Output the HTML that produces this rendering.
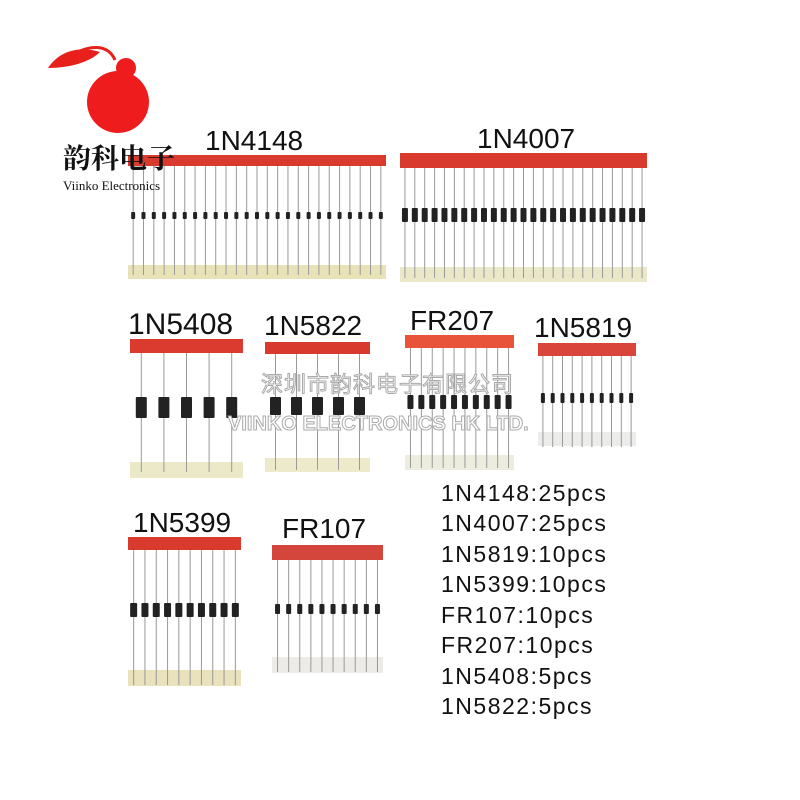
<!DOCTYPE html>
<html><head><meta charset="utf-8"><style>
html,body{margin:0;padding:0;background:#fff;}
body{width:800px;height:800px;overflow:hidden;position:relative;}
svg{position:absolute;left:0;top:0;}
</style></head><body>
<svg id="s" width="800" height="800" viewBox="0 0 800 800" xmlns="http://www.w3.org/2000/svg">
<g id="strips"></g>
<!-- logo -->
<path d="M48,68 C60,50 80,46 100,52 C90,62 70,68 48,68 Z" fill="#e8201c"/>
<path d="M70,56 C90,44 108,44 115,60" stroke="#e8201c" stroke-width="3" fill="none"/>
<circle cx="118" cy="102" r="31" fill="#ee1c1c"/>
<circle cx="126" cy="68" r="10" fill="#ee1c1c"/>
<text x="63" y="168" font-family="'Noto Serif CJK SC','Noto Sans CJK SC',serif" font-weight="bold" font-size="28" fill="#111">韵科电子</text>
<text x="63" y="190" font-family="'Liberation Serif',serif" font-size="13" fill="#111">Viinko Electronics</text>
<g font-family="'Liberation Sans',sans-serif" font-size="28" fill="#111">
<text x="205" y="150">1N4148</text>
<text x="477" y="148">1N4007</text>
<text x="128" y="334" font-size="30">1N5408</text>
<text x="264" y="335">1N5822</text>
<text x="410" y="330">FR207</text>
<text x="534" y="337">1N5819</text>
<text x="133" y="532">1N5399</text>
<text x="282" y="538">FR107</text>
</g>
<g font-family="'Liberation Sans',sans-serif" font-size="23" fill="#111" letter-spacing="1.5">
<text x="441" y="501">1N4148:25pcs</text>
<text x="441" y="531">1N4007:25pcs</text>
<text x="441" y="562">1N5819:10pcs</text>
<text x="441" y="592">1N5399:10pcs</text>
<text x="441" y="623">FR107:10pcs</text>
<text x="441" y="653">FR207:10pcs</text>
<text x="441" y="684">1N5408:5pcs</text>
<text x="441" y="714">1N5822:5pcs</text>
</g>
<text x="261" y="392" font-family="'Noto Sans CJK SC',sans-serif" font-size="22" fill="#fff" stroke="#aaa" stroke-width="1" letter-spacing="1">深圳市韵科电子有限公司</text>
<text x="228" y="430" font-family="'Liberation Sans',sans-serif" font-weight="bold" font-size="20" fill="#fff" stroke="#aaa" stroke-width="1">VIINKO ELECTRONICS HK LTD.</text>
</svg>
<script>
var S=[
[128,386,155,166,275,265,279,25,212,219,4,'#e8e2b8','#d93a2e'],
[400,647,153,168,278,267,282,25,208,222,6,'#ebe8c9','#d93a2e'],
[130,243,339,353,472,462,478,5,397,418,11,'#ece9c8','#db3a2e'],
[265,370,342,354,470,458,472,5,397,415,11,'#eceacb','#d93a2e'],
[405,514,335,348,468,455,470,10,395,409,6,'#ececdf','#e8543a'],
[538,636,343,356,447,432,446,10,393,403,4,'#ececea','#d9453a'],
[128,241,537,550,685,670,686,10,603,617,7,'#e9e2bc','#d93a2e'],
[272,383,545,560,672,657,673,10,604,614,5,'#ecebe7','#d4463c']];
var g=document.getElementById('strips'),h='';
S.forEach(function(s){
 var x1=s[0],x2=s[1],n=s[7],w=(x2-x1)/n;
 h+='<rect x="'+x1+'" y="'+s[5]+'" width="'+(x2-x1)+'" height="'+(s[6]-s[5])+'" fill="'+s[11]+'"/>';
 for(var i=0;i<n;i++){var x=x1+w*(i+0.5);
  h+='<line x1="'+x+'" y1="'+s[3]+'" x2="'+x+'" y2="'+s[4]+'" stroke="#999" stroke-width="1"/>';
  h+='<rect x="'+(x-s[10]/2)+'" y="'+s[8]+'" width="'+s[10]+'" height="'+(s[9]-s[8])+'" fill="#222" rx="1"/>';}
 h+='<rect x="'+x1+'" y="'+s[2]+'" width="'+(x2-x1)+'" height="'+(s[3]-s[2])+'" fill="'+s[12]+'"/>';
});
g.innerHTML=h;
</script>
</body></html>
